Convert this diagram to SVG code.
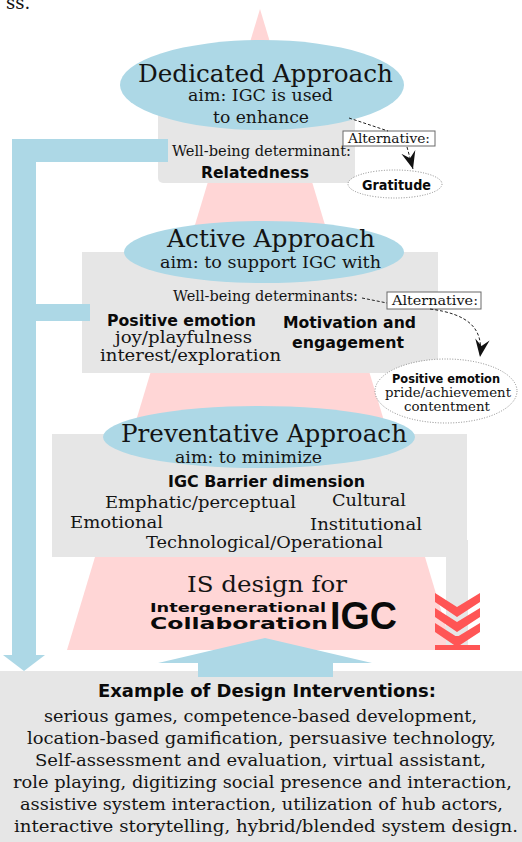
<svg xmlns="http://www.w3.org/2000/svg" width="522" height="842" viewBox="0 0 522 842">
<style>
.sr{font-family:"DejaVu Serif","Liberation Serif",serif;fill:#141414}
.sb{font-family:"DejaVu Sans","Liberation Sans",sans-serif;font-weight:bold;fill:#0a0a0a}
.grey{fill:#e6e6e6}
.blue{fill:#add8e6}
.alt{fill:#fff;stroke:#6a6a6a;stroke-width:1}
.dot{fill:#fff;stroke:#8a8a8a;stroke-width:1;stroke-dasharray:1 1.6}
.dash{fill:none;stroke:#222;stroke-width:1;stroke-dasharray:3 2}
.red{fill:#ff5555}
</style>
<defs>
<marker id="ah" markerUnits="userSpaceOnUse" markerWidth="20" markerHeight="20" viewBox="-16 -8 18 16" refX="0" refY="0" orient="auto">
<path d="M0,0 L-16,-6.5 L-10,0 L-16,6.5 Z" fill="#111"/>
</marker>
</defs>
<rect width="522" height="842" fill="#fff"/>
<text class="sr" x="6" y="9" font-size="18">ss.</text>

<g id="pyramid">
<polygon points="260,9 453,650 67,650" fill="#ffd6d6"/>
</g>

<g id="dedicated">
<rect class="grey" x="158" y="108" width="197" height="75" rx="5"/>
<ellipse class="blue" cx="262" cy="85" rx="142" ry="45"/>
<text class="sr" x="138" y="82" font-size="25" textLength="255" lengthAdjust="spacingAndGlyphs">Dedicated Approach</text>
<text class="sr" x="188" y="101" font-size="16" textLength="145" lengthAdjust="spacingAndGlyphs">aim: IGC is used</text>
<text class="sr" x="213" y="123" font-size="16" textLength="96" lengthAdjust="spacingAndGlyphs">to enhance</text>
<text class="sr" x="172" y="156" font-size="14.5" textLength="179" lengthAdjust="spacingAndGlyphs">Well-being determinant:</text>
<text class="sb" x="201" y="178" font-size="16" textLength="108" lengthAdjust="spacingAndGlyphs">Relatedness</text>
</g>

<g id="alt1">
<rect class="alt" x="343" y="131" width="92" height="15"/>
<text class="sr" x="348" y="143" font-size="13.5" textLength="82" lengthAdjust="spacingAndGlyphs">Alternative:</text>
</g>

<g id="gratitude">
<ellipse class="dot" cx="395" cy="184" rx="47" ry="14"/>
<text class="sb" x="362" y="190" font-size="14" textLength="69" lengthAdjust="spacingAndGlyphs">Gratitude</text>
</g>

<g id="active">
<rect class="grey" x="82" y="252" width="356" height="121"/>
<ellipse class="blue" cx="264" cy="252" rx="140" ry="31"/>
<text class="sr" x="167" y="247" font-size="25" textLength="208" lengthAdjust="spacingAndGlyphs">Active Approach</text>
<text class="sr" x="160" y="268" font-size="16" textLength="221" lengthAdjust="spacingAndGlyphs">aim: to support IGC with</text>
<text class="sr" x="173" y="301" font-size="14.5" textLength="185" lengthAdjust="spacingAndGlyphs">Well-being determinants:</text>
<text class="sb" x="107" y="326" font-size="15" textLength="149" lengthAdjust="spacingAndGlyphs">Positive emotion</text>
<text class="sr" x="115" y="343" font-size="16.5" textLength="137" lengthAdjust="spacingAndGlyphs">joy/playfulness</text>
<text class="sr" x="100" y="361" font-size="16.5" textLength="181" lengthAdjust="spacingAndGlyphs">interest/exploration</text>
<text class="sb" x="283" y="328" font-size="15.5" textLength="133" lengthAdjust="spacingAndGlyphs">Motivation and</text>
<text class="sb" x="292" y="348" font-size="15.5" textLength="112" lengthAdjust="spacingAndGlyphs">engagement</text>
</g>

<g id="alt2">
<rect class="alt" x="387" y="292" width="94" height="17"/>
<text class="sr" x="392" y="305" font-size="13.5" textLength="86" lengthAdjust="spacingAndGlyphs">Alternative:</text>
</g>

<g id="positive-alt">
<ellipse class="dot" cx="446" cy="391" rx="71" ry="32"/>
<text class="sb" x="392" y="383" font-size="12.5" textLength="108" lengthAdjust="spacingAndGlyphs">Positive emotion</text>
<text class="sr" x="385" y="397" font-size="13" textLength="126" lengthAdjust="spacingAndGlyphs">pride/achievement</text>
<text class="sr" x="404" y="411" font-size="13" textLength="86" lengthAdjust="spacingAndGlyphs">contentment</text>
</g>

<g id="preventative">
<rect class="grey" x="52" y="434" width="415" height="123"/>
<rect class="grey" x="446" y="540" width="22" height="105"/>
<ellipse class="blue" cx="259" cy="437" rx="156" ry="31"/>
<text class="sr" x="121" y="442" font-size="25" textLength="286" lengthAdjust="spacingAndGlyphs">Preventative Approach</text>
<text class="sr" x="175" y="463" font-size="16" textLength="147" lengthAdjust="spacingAndGlyphs">aim: to minimize</text>
<text class="sb" x="168" y="487" font-size="16" textLength="197" lengthAdjust="spacingAndGlyphs">IGC Barrier dimension</text>
<text class="sr" x="105" y="508" font-size="17.5" textLength="191" lengthAdjust="spacingAndGlyphs">Emphatic/perceptual</text>
<text class="sr" x="332" y="506" font-size="17.5" textLength="74" lengthAdjust="spacingAndGlyphs">Cultural</text>
<text class="sr" x="70" y="528" font-size="17.5" textLength="93" lengthAdjust="spacingAndGlyphs">Emotional</text>
<text class="sr" x="310" y="530" font-size="17.5" textLength="112" lengthAdjust="spacingAndGlyphs">Institutional</text>
<text class="sr" x="146" y="548" font-size="17.5" textLength="237" lengthAdjust="spacingAndGlyphs">Technological/Operational</text>
</g>

<g id="is-design">
<text class="sr" x="187" y="592" font-size="23" textLength="160" lengthAdjust="spacingAndGlyphs">IS design for</text>
<text class="sb" x="150" y="612" font-size="13" textLength="176" lengthAdjust="spacingAndGlyphs">Intergenerational</text>
<text class="sb" x="150" y="629" font-size="16" textLength="178" lengthAdjust="spacingAndGlyphs">Collaboration</text>
<text x="330" y="629" font-family="'Liberation Sans',Arial,sans-serif" font-weight="bold" font-size="38" textLength="67" lengthAdjust="spacingAndGlyphs" fill="#0a0a0a">IGC</text>
</g>

<g id="chevrons">
<polygon class="red" points="435,593 457,607 480,593 480,602 457,617 435,602"/>
<polygon class="red" points="435,608 457,622 480,608 480,617 457,632 435,617"/>
<polygon class="red" points="435,623 457,637 480,623 480,632 457,647 435,632"/>
<rect class="red" x="455" y="636" width="4" height="10"/>
<rect class="red" x="435" y="645" width="45" height="5"/>
</g>

<g id="interventions">
<rect class="grey" x="0" y="671" width="522" height="171"/>
<text class="sb" x="98" y="697" font-size="17" textLength="338" lengthAdjust="spacingAndGlyphs">Example of Design Interventions:</text>
<text class="sr" x="44" y="722" font-size="17.5" textLength="433" lengthAdjust="spacingAndGlyphs">serious games, competence-based development,</text>
<text class="sr" x="27" y="744" font-size="17.5" textLength="469" lengthAdjust="spacingAndGlyphs">location-based gamification, persuasive technology,</text>
<text class="sr" x="35" y="766" font-size="17.5" textLength="451" lengthAdjust="spacingAndGlyphs">Self-assessment and evaluation, virtual assistant,</text>
<text class="sr" x="13" y="788" font-size="17.5" textLength="499" lengthAdjust="spacingAndGlyphs">role playing, digitizing social presence and interaction,</text>
<text class="sr" x="20" y="810" font-size="17.5" textLength="483" lengthAdjust="spacingAndGlyphs">assistive system interaction, utilization of hub actors,</text>
<text class="sr" x="14" y="832" font-size="17.5" textLength="504" lengthAdjust="spacingAndGlyphs">interactive storytelling, hybrid/blended system design.</text>
</g>

<g id="connectors">
<polygon class="blue" points="12,139 168,139 168,162 36,162 36,304 90,304 90,321 36,321 36,655 45,655 24,671 3,655 12,655"/>
<polygon class="blue" points="265,638 372,663 333,663 333,677 198,677 198,663 158,663"/>
<path class="dash" d="M349,118 L388,131"/>
<path class="dash" d="M407,147 L413,169" marker-end="url(#ah)"/>
<path class="dash" d="M362,298 L387,303"/>
<path class="dash" d="M430,309 C468,314 484,328 480,357" marker-end="url(#ah)"/>
</g>
</svg>
